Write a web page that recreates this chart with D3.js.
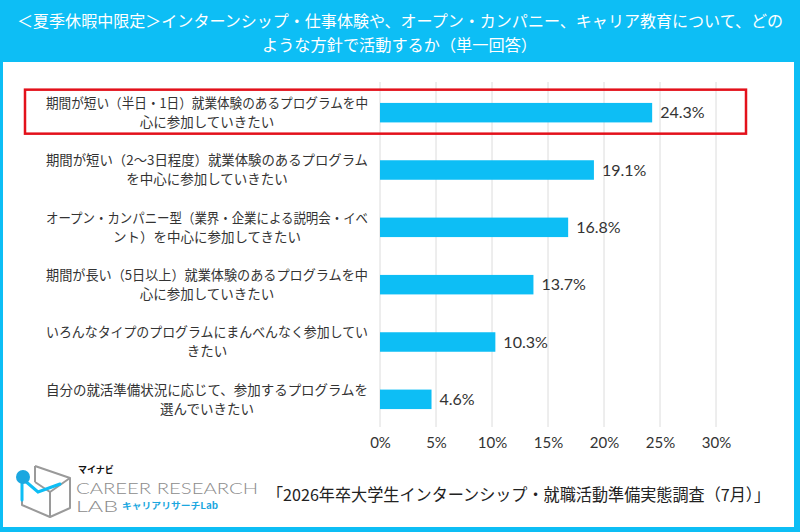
<!DOCTYPE html>
<html><head><meta charset="utf-8">
<script src="https://cdn.jsdelivr.net/npm/d3@7"></script>
<style>html,body{margin:0;padding:0;background:#fff;}svg{display:block;}</style>
</head><body>
<svg id="chart" width="800" height="532"></svg>
<script>
const titleLines = ["＜夏季休暇中限定＞インターンシップ・仕事体験や、オープン・カンパニー、キャリア教育について、どの", "ような方針で活動するか（単一回答）"];
const categories = [
  ["期間が短い（半日・1日）就業体験のあるプログラムを中", "心に参加していきたい"],
  ["期間が短い（2～3日程度）就業体験のあるプログラム", "を中心に参加していきたい"],
  ["オープン・カンパニー型（業界・企業による説明会・イベ", "ント）を中心に参加してきたい"],
  ["期間が長い（5日以上）就業体験のあるプログラムを中", "心に参加していきたい"],
  ["いろんなタイプのプログラムにまんべんなく参加してい", "きたい"],
  ["自分の就活準備状況に応じて、参加するプログラムを", "選んでいきたい"]
];
const values = [24.3, 19.1, 16.8, 13.7, 10.3, 4.6];
const tickValues = [0, 5, 10, 15, 20, 25, 30];
const highlighted = [0];
const sourceText = "「2026年卒大学生インターンシップ・就職活動準備実態調査（7月）」";

const BLUE = "#0dbef5";
const JP = "'Noto Sans CJK JP','Noto Sans',sans-serif";
const svg = d3.select("#chart");

// frame
svg.append("rect").attr("x",0).attr("y",0).attr("width",800).attr("height",532).attr("fill",BLUE);
svg.append("rect").attr("x",3).attr("y",62).attr("width",791).attr("height",465).attr("fill","#fff");

// title
const tl = [{x:17,w:766,y:27},{x:262,w:275,y:51}];
svg.selectAll("text.title").data(titleLines).join("text").attr("class","title")
  .attr("x",(d,i)=>tl[i].x).attr("y",(d,i)=>tl[i].y)
  .attr("textLength",(d,i)=>tl[i].w).attr("lengthAdjust","spacingAndGlyphs")
  .attr("fill","#fff").style("font-family",JP).style("font-size","16px").text(d=>d);

// scales
const x = d3.scaleLinear().domain([0,30]).range([380,716]);
const y = d3.scaleBand().domain(d3.range(categories.length)).range([84,428]).paddingInner(0.66).paddingOuter(0.33);

// grid
const g = svg.append("g");
g.selectAll("line.grid").data(tickValues).join("line").attr("class","grid")
  .attr("x1",d=>x(d)).attr("x2",d=>x(d)).attr("y1",82).attr("y2",427)
  .attr("stroke","#dcdcdc").attr("stroke-width",1);

// axis labels
const axis = d3.axisBottom(x).tickValues(tickValues).tickFormat(d=>d+"%").tickSize(0).tickPadding(0);
const ag = svg.append("g").attr("transform","translate(0,437)").call(axis);
ag.select(".domain").remove();
ag.selectAll("text").attr("dy","0.71em").attr("fill","#333")
  .style("font-family","'Lato','Noto Sans',sans-serif").style("font-size","15px");

// bars
g.selectAll("rect.bar").data(values).join("rect").attr("class","bar")
  .attr("x",x(0)).attr("y",(d,i)=>y(i)).attr("width",d=>x(d)-x(0)).attr("height",y.bandwidth())
  .attr("fill",BLUE);

// value labels
g.selectAll("text.val").data(values).join("text").attr("class","val")
  .attr("x",d=>x(d)+8).attr("y",(d,i)=>y(i)+y.bandwidth()/2).attr("dy","0.36em")
  .attr("fill","#333").style("font-family","'Lato','Noto Sans',sans-serif").style("font-size","16px")
  .text(d=>d.toFixed(1)+"%");

// category labels
const maxW = 322;
categories.forEach((lines,i)=>{
  const cy = y(i)+y.bandwidth()/2;
  lines.forEach((ln,j)=>{
    const t = svg.append("text").attr("text-anchor","middle").attr("fill","#333")
      .style("font-family",JP).style("font-size","13.5px")
      .attr("x",207).attr("y",cy + (j-(lines.length-1)/2)*19).attr("dy","0.35em").text(ln);
    const w = t.node().getComputedTextLength();
    if (w > maxW) t.attr("textLength",maxW).attr("lengthAdjust","spacingAndGlyphs");
  });
});

// highlight box
highlighted.forEach(i=>{
  const cy = y(i)+y.bandwidth()/2;
  svg.append("rect").attr("x",25).attr("y",cy-23).attr("width",721).attr("height",44)
    .attr("fill","none").attr("stroke","#e3111b").attr("stroke-width",2.5);
});

// source
svg.append("text").attr("x",267).attr("y",501).attr("textLength",503).attr("lengthAdjust","spacingAndGlyphs")
  .attr("fill","#222").style("font-family",JP).style("font-size","16.5px").text(sourceText);

// logo
const lg = svg.append("g");
lg.append("path").attr("d","M35,466 L70,478 L70,508 L50,517 L22,505 L22,490 M35,466 L35,482 M50,517 L50,492 L70,478 M50,492 L35,482")
  .attr("fill","none").attr("stroke","#9a9a9a").attr("stroke-width",2).attr("stroke-linejoin","round");
lg.append("path").attr("d","M24,480 L38,492 L60,484 M22,484 L22,500")
  .attr("fill","none").attr("stroke",BLUE).attr("stroke-width",3).attr("stroke-linecap","round");
lg.append("circle").attr("cx",23).attr("cy",477).attr("r",7).attr("fill","#1ba7e0");
lg.append("text").attr("x",78).attr("y",473).attr("fill","#111").style("font-family",JP).style("font-weight","bold").style("font-size","9px").text("マイナビ");
lg.append("text").attr("x",76).attr("y",494).attr("textLength",182).attr("lengthAdjust","spacingAndGlyphs").attr("fill","#8c8c8c").style("font-family","'Lato',sans-serif").style("font-weight","300").style("font-size","16px").text("CAREER RESEARCH");
lg.append("text").attr("x",76).attr("y",512).attr("textLength",42).attr("lengthAdjust","spacingAndGlyphs").attr("fill","#8c8c8c").style("font-family","'Lato',sans-serif").style("font-weight","300").style("font-size","16px").text("LAB");
lg.append("text").attr("x",122).attr("y",509).attr("textLength",96).attr("lengthAdjust","spacingAndGlyphs").attr("fill","#1ba7e0").style("font-family",JP).style("font-weight","bold").style("font-size","9px").text("キャリアリサーチLab");
</script>
</body></html>
